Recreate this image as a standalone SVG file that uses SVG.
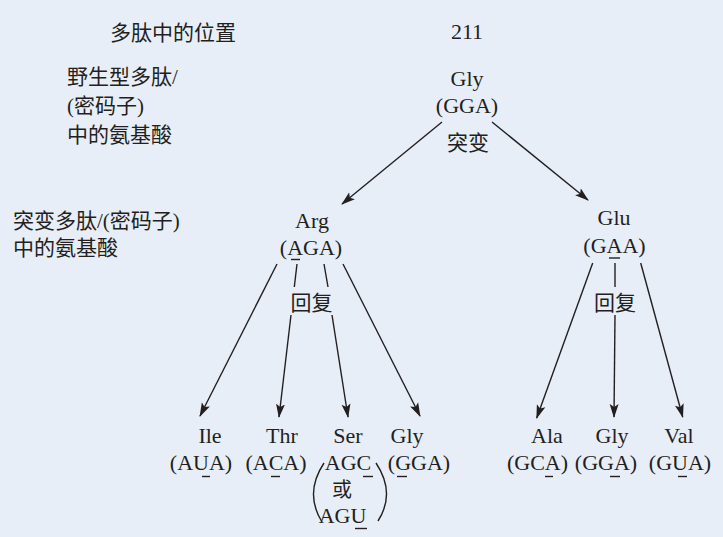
<svg xmlns="http://www.w3.org/2000/svg" width="723" height="537" viewBox="0 0 723 537">
<defs>
<marker id="ah" markerWidth="14" markerHeight="10" viewBox="0 0 14 10" refX="13" refY="5" orient="auto" markerUnits="userSpaceOnUse">
<path d="M0,0.5 L14,5 L0,9.5 L3,5 Z" fill="#231f20"/>
</marker>
<style>
.t{font-family:"Liberation Serif","Noto Sans CJK SC",serif;font-size:22px;fill:#231f20}
.c{font-family:"Liberation Serif","Noto Sans CJK SC",serif;font-size:21px;fill:#231f20}
.m{text-anchor:middle}
.ln{stroke:#231f20;stroke-width:1.4;fill:none}
.ar{stroke:#231f20;stroke-width:1.4;fill:none;marker-end:url(#ah)}
.ul{stroke:#231f20;stroke-width:1.4}
</style>
</defs>
<rect width="723" height="537" fill="#e8eef8"/>

<g id="row-labels">
<text class="c" x="110" y="40">多肽中的位置</text>
<text class="c" x="67" y="84">野生型多肽/</text>
<text class="c" x="67" y="113">(密码子)</text>
<text class="c" x="67" y="142">中的氨基酸</text>
<text class="c" x="13" y="228">突变多肽/(密码子)</text>
<text class="c" x="13" y="255">中的氨基酸</text>
</g>

<g id="position"><text class="t m" x="467" y="39">211</text></g>

<g id="node-wt">
<text class="t m" x="467" y="86">Gly</text>
<text class="t m" x="467" y="113">(GGA)</text>
</g>

<g id="node-arg">
<text class="t m" x="312" y="228">Arg</text>
<text class="t m" x="311" y="255">(AGA)</text>
<line class="ul" x1="291" y1="259.5" x2="300" y2="259.5"/>
</g>

<g id="node-glu">
<text class="t m" x="614" y="225">Glu</text>
<text class="t m" x="614.5" y="253">(GAA)</text>
<line class="ul" x1="609" y1="258" x2="620" y2="258"/>
</g>

<g id="node-ile">
<text class="t m" x="210" y="443">Ile</text>
<text class="t m" x="201" y="470">(AUA)</text>
<line class="ul" x1="202" y1="476.5" x2="210" y2="476.5"/>
</g>

<g id="node-thr">
<text class="t m" x="282" y="443">Thr</text>
<text class="t m" x="276" y="470">(ACA)</text>
<line class="ul" x1="271" y1="476.5" x2="280" y2="476.5"/>
</g>

<g id="node-ser">
<text class="t m" x="348" y="443">Ser</text>
<text class="t m" x="348" y="470">AGC</text>
<line class="ul" x1="363" y1="476.5" x2="373" y2="476.5"/>
<text class="c m" x="342" y="497" style="font-size:20px">或</text>
<text class="t m" x="342.5" y="523">AGU</text>
<line class="ul" x1="355" y1="528.5" x2="367" y2="528.5"/>
<path class="ln" d="M324,463 Q304,493 322,522"/>
<path class="ln" d="M376,463 Q396,493 378,521"/>
</g>

<g id="node-gly1">
<text class="t m" x="407" y="443">Gly</text>
<text class="t m" x="419" y="470">(GGA)</text>
<line class="ul" x1="397" y1="476.5" x2="407" y2="476.5"/>
</g>

<g id="node-ala">
<text class="t m" x="547" y="443">Ala</text>
<text class="t m" x="537.5" y="470">(GCA)</text>
<line class="ul" x1="545" y1="476.5" x2="553" y2="476.5"/>
</g>

<g id="node-gly2">
<text class="t m" x="612" y="443">Gly</text>
<text class="t m" x="606" y="470">(GGA)</text>
<line class="ul" x1="610" y1="476.5" x2="620" y2="476.5"/>
</g>

<g id="node-val">
<text class="t m" x="679" y="443">Val</text>
<text class="t m" x="680" y="470">(GUA)</text>
<line class="ul" x1="678" y1="476.5" x2="687" y2="476.5"/>
</g>

<g id="connectors">
<line class="ar" x1="442" y1="122" x2="342" y2="204"/>
<line class="ar" x1="492" y1="122" x2="588" y2="200"/>
<text class="c m" x="468" y="150">突变</text>

<line class="ar" x1="277" y1="264" x2="200" y2="416"/>
<line class="ln" x1="297" y1="264" x2="294.3" y2="287"/>
<line class="ar" x1="291" y1="315" x2="279" y2="417"/>
<line class="ln" x1="324" y1="264" x2="328" y2="287"/>
<line class="ar" x1="332" y1="315" x2="348" y2="417"/>
<line class="ar" x1="343" y1="264" x2="420" y2="416"/>
<text class="c m" x="311.5" y="310">回复</text>

<line class="ar" x1="592.7" y1="263" x2="536.7" y2="418"/>
<line class="ln" x1="615" y1="263" x2="615" y2="287"/>
<line class="ar" x1="615" y1="315" x2="614" y2="417"/>
<line class="ar" x1="640.7" y1="263" x2="682.7" y2="417"/>
<text class="c m" x="615" y="310">回复</text>
</g>
</svg>
